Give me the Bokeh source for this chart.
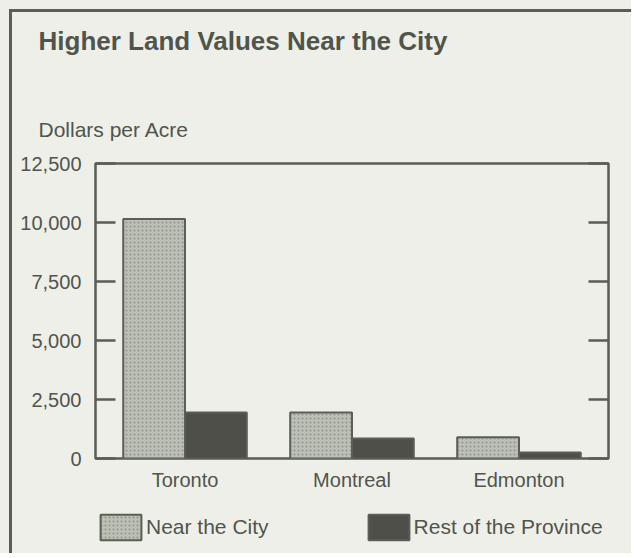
from bokeh.plotting import figure
from bokeh.layouts import column
from bokeh.models import (ColumnDataSource, FactorRange, Range1d, LinearAxis, FixedTicker,
                          NumeralTickFormatter, Title, Legend, LegendItem)
from bokeh.transform import dodge
from bokeh.embed import file_html
from bokeh.resources import INLINE

# ---- data ----
cities = ["Toronto", "Montreal", "Edmonton"]
near_city = [10150, 1950, 900]
rest_of_province = [1950, 850, 250]
y_ticks = [0, 2500, 5000, 7500, 10000, 12500]
title_text = "Higher Land Values Near the City"
y_label = "Dollars per Acre"
series_names = ["Near the City", "Rest of the Province"]

# ---- style ----
BG = "#efefe9"
TXT = "#50554c"
LINE = "#5a5e55"
NEAR = "#bcbfb5"
HATCH = "#7f837a"
REST = "#4d4f48"
FONT = "Liberation Sans"
W = 622

src = ColumnDataSource(dict(city=cities, near=near_city, rest=rest_of_province))

p = figure(x_range=FactorRange(factors=cities, range_padding=0.024),
           y_range=Range1d(0, 12500), title=None,
           width=W, height=490, output_backend="svg", toolbar_location=None,
           min_border_left=83, min_border_right=26, min_border_top=151, min_border_bottom=44)
p.styles = {"border-left": f"3px solid {LINE}", "border-top": f"3px solid {LINE}"}

p.background_fill_color = BG
p.border_fill_color = BG
p.outline_line_color = LINE
p.outline_line_width = 2.5
p.xgrid.grid_line_color = None
p.ygrid.grid_line_color = None

bar_near = dict(fill_color=NEAR, line_color=LINE, line_width=2, hatch_pattern="dot",
                hatch_scale=4, hatch_color=HATCH, hatch_weight=1, hatch_alpha=0.7)
bar_rest = dict(fill_color=REST, line_color=LINE, line_width=2)

p.vbar(x=dodge("city", -0.185, range=p.x_range), top="near", width=0.37, source=src, **bar_near)
p.vbar(x=dodge("city", 0.185, range=p.x_range), top="rest", width=0.37, source=src, **bar_rest)

# y axis (left)
ya = p.yaxis[0]
ya.ticker = FixedTicker(ticks=y_ticks)
ya.formatter = NumeralTickFormatter(format="0,0")
ya.axis_line_color = None
ya.major_tick_in = 20
ya.major_tick_out = 0
ya.major_tick_line_color = LINE
ya.major_tick_line_width = 2.5
ya.minor_tick_line_color = None
ya.major_label_standoff = 14
ya.major_label_text_font = FONT
ya.major_label_text_font_size = "20px"
ya.major_label_text_color = TXT

# right axis: ticks only
ra = LinearAxis(ticker=FixedTicker(ticks=y_ticks),
                major_label_overrides={t: "" for t in y_ticks})
ra.axis_line_color = None
ra.major_tick_in = 20
ra.major_tick_out = 0
ra.major_tick_line_color = LINE
ra.major_tick_line_width = 2.5
ra.minor_tick_line_color = None
ra.major_label_standoff = 0
p.add_layout(ra, "right")

# x axis
xa = p.xaxis[0]
xa.axis_line_color = None
xa.major_tick_line_color = None
xa.minor_tick_line_color = None
xa.major_label_standoff = 4
xa.major_label_text_font = FONT
xa.major_label_text_font_size = "20px"
xa.major_label_text_color = TXT

# titles stacked above the frame (first added is closest to the frame)
p.add_layout(Title(text=y_label, align="left", offset=-57, standoff=46, vertical_align="bottom",
                   text_font=FONT, text_font_size="21px", text_font_style="normal",
                   text_color=TXT), "above")
p.add_layout(Title(text=" ", align="left", offset=0, standoff=19,
                   text_font=FONT, text_font_size="2px", text_color=BG), "above")
p.add_layout(Title(text=title_text, align="left", offset=-57, standoff=23, vertical_align="top",
                   text_font=FONT, text_font_size="26px", text_font_style="bold",
                   text_color=TXT), "above")

# ---- legend strip below the chart ----
pl = figure(width=W, height=54, x_range=Range1d(0, 1), y_range=Range1d(0, 1),
            output_backend="svg", toolbar_location=None, min_border=0,
            x_axis_location=None, y_axis_location=None)
pl.styles = {"border-left": f"3px solid {LINE}"}
pl.background_fill_color = BG
pl.border_fill_color = BG
pl.outline_line_color = None
pl.xgrid.grid_line_color = None
pl.ygrid.grid_line_color = None
# legend proxies (hidden renderers on the same data)
k1 = pl.vbar(x="near", top="near", width=0.1, source=src, visible=False, **bar_near)
k2 = pl.vbar(x="rest", top="rest", width=0.1, source=src, visible=False, **bar_rest)
legend = Legend(items=[LegendItem(label=series_names[0], renderers=[k1]),
                       LegendItem(label=series_names[1], renderers=[k2])],
                orientation="horizontal", location=(0, 10), padding=0, margin=0,
                spacing=94, glyph_width=51, glyph_height=32, label_standoff=0,
                border_line_color=None, background_fill_alpha=0, inactive_fill_alpha=0,
                label_text_font=FONT, label_text_font_size="21px", label_text_color=TXT)
pl.add_layout(legend)

layout = column(p, pl, spacing=0)
layout.styles = {"padding-left": "9px", "padding-top": "9px", "background-color": BG}

open("out.html", "w").write(file_html(layout, INLINE))
